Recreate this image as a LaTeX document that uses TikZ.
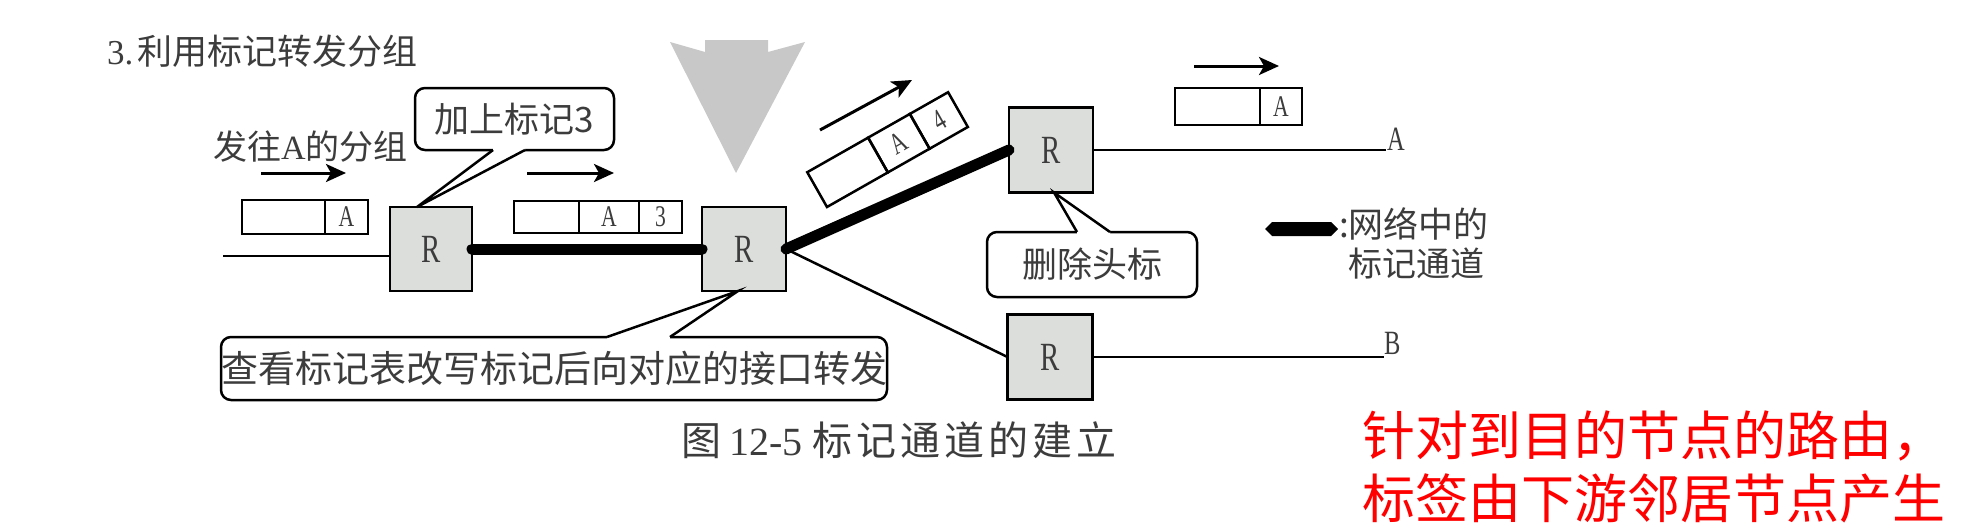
\documentclass[tikz,border=0pt]{standalone}
\usepackage{fontspec}
\setmainfont{Liberation Serif}
\newfontfamily\cjk{Noto Sans CJK SC}
\newfontfamily\nserif[FakeStretch=0.72]{Liberation Serif}
\usetikzlibrary{arrows.meta}
\definecolor{rfill}{RGB}{220,222,220}
\definecolor{trigray}{RGB}{200,200,200}
\definecolor{txt}{RGB}{60,60,60}
\newcommand\gp{\hspace{4pt}}
\begin{document}
\begin{tikzpicture}[x=1pt,y=-1pt,
  router/.style={draw, line width=2.5pt, fill=rfill, minimum width=82pt, minimum height=84pt, inner sep=0pt, outer sep=0pt, text=txt, font=\nserif\fontsize{40}{40}\selectfont},
  cell/.style={draw, line width=2.5pt, minimum height=34pt, inner sep=0pt, outer sep=0pt, text=txt, font=\nserif\fontsize{30}{30}\selectfont},
  callout/.style={draw, line width=2.5pt, rounded corners=10pt, fill=white, inner sep=0pt, outer sep=0pt, text=txt, font=\cjk\fontsize{35}{35}\selectfont},
  lbl/.style={inner sep=0pt, text=txt, font=\cjk\fontsize{34}{34}\selectfont},
  endlbl/.style={anchor=base west, inner sep=0pt, text=txt, font=\nserif\fontsize{34}{34}\selectfont},
  link/.style={line width=2.5pt},
  tunnel/.style={line width=11pt, line cap=round},
  flow/.style={line width=3pt, -{Stealth[length=20pt,width=18pt,inset=5pt]}},
  ptr/.style={line width=2.5pt, line join=miter},
  redtxt/.style={anchor=west, inner sep=0pt, text=red, font=\cjk\fontsize{53}{53}\selectfont}
]
\useasboundingbox (0,0) rectangle (1968,530);

% gray marker triangle
\fill[trigray] (670,42) -- (705,52) -- (705,40) -- (768,40) -- (768,52) -- (805,42) -- (736,173) -- cycle;

% title and labels
\node[lbl, anchor=west, font=\cjk\fontsize{35}{35}\selectfont] (title) at (107,51) {{\rmfamily 3.}\hspace{4pt}利用标记转发分组};
\node[lbl, anchor=west] (send) at (213,147) {发往{\rmfamily A}的分组};

% routers
\node[router] (R1) at (431,249) {R};
\node[router, minimum width=84pt] (R2) at (744,249) {R};
\node[router, minimum width=84pt, minimum height=85pt] (R3) at (1051,150) {R};
\node[router, minimum width=85pt, minimum height=85pt] (R4) at (1050,357) {R};

% links
\coordinate (in) at (223,256);
\draw[link] (in) -- (in -| R1.west);
\coordinate (dA) at (1386,150);
\draw[link] (R3.east) -- (dA);
\node[endlbl] (labA) at ([xshift=1pt]dA) {A};
\coordinate (dB) at (1384,357);
\draw[link] (R4.east) -- (dB);
\node[endlbl] (labB) at ([yshift=3pt]dB) {B};
\draw[link] (R2.east) -- (R4.west);
\draw[tunnel] (R1.east) -- (R2.west);
\draw[tunnel] (R2.east) -- (R3.west);

% packets
\node[cell, minimum width=83pt, anchor=north west] (p1a) at (242,200) {};
\node[cell, minimum width=43pt, anchor=west] (p1b) at (p1a.east) {A};

\node[cell, minimum width=65pt, minimum height=32pt, anchor=north west] (p2a) at (514,201) {};
\node[cell, minimum width=60pt, minimum height=32pt, anchor=west] (p2b) at (p2a.east) {A};
\node[cell, minimum width=43pt, minimum height=32pt, anchor=west] (p2c) at (p2b.east) {3};

\node[cell, minimum width=85pt, minimum height=37pt, anchor=north west] (p3a) at (1175,88) {};
\node[cell, minimum width=42pt, minimum height=37pt, anchor=west] (p3b) at (p3a.east) {A};

\node[cell, rotate=29.6, minimum width=70pt, minimum height=40pt, anchor=south west] (p4a) at (827,207) {};
\node[cell, rotate=29.6, minimum width=48pt, minimum height=40pt, anchor=south west] (p4b) at (p4a.south east) {A};
\node[cell, rotate=29.6, minimum width=44pt, minimum height=40pt, anchor=south west] (p4c) at (p4b.south east) {4};

% flow arrows
\coordinate (a1s) at (261,173); \coordinate (a1e) at (346,173);
\draw[flow] (a1s) -- (a1e);
\coordinate (a2s) at (527,173); \coordinate (a2e) at (614,173);
\draw[flow] (a2s) -- (a2e);
\coordinate (a3s) at (1194,66); \coordinate (a3e) at (1279,66);
\draw[flow] (a3s) -- (a3e);
\coordinate (a4s) at (820,130); \coordinate (a4e) at (912,80);
\draw[flow] (a4s) -- (a4e);

% callout 1
\node[callout, minimum width=199pt, minimum height=62pt] (C1) at (514.5,119) {加上标记3};
\coordinate (c1a) at ([xshift=78pt]C1.south west);
\coordinate (c1b) at ([xshift=110pt]C1.south west);
\coordinate (c1t) at ([xshift=27pt]R1.north west);
\fill[white] (c1a) -- (c1t) -- (c1b) -- ([yshift=4pt]c1b) -- ([yshift=4pt]c1a) -- cycle;
\draw[ptr] (c1a) -- (c1t) -- (c1b);

% callout 2
\node[callout, minimum width=210pt, minimum height=65pt] (C2) at (1092,264.5) {删除头标};
\coordinate (c2a) at ([xshift=90pt]C2.north west);
\coordinate (c2b) at ([xshift=123pt]C2.north west);
\coordinate (c2t) at ([xshift=3pt]R3.south);
\fill[white] (c2a) -- (c2t) -- (c2b) -- ([yshift=-4pt]c2b) -- ([yshift=-4pt]c2a) -- cycle;
\draw[ptr] (c2a) -- (c2t) -- (c2b);

% callout 3
\node[callout, minimum width=648pt, minimum height=63pt, font=\cjk\fontsize{37}{37}\selectfont] (C3) at (554,368.5) {查看标记表改写标记后向对应的接口转发};
\coordinate (c3a) at ([xshift=386pt]C3.north west);
\coordinate (c3b) at ([xshift=449pt]C3.north west);
\coordinate (c3t) at ([xshift=-6pt]R2.south);
\fill[white] (c3a) -- (c3t) -- (c3b) -- ([yshift=-4pt]c3b) -- ([yshift=-4pt]c3a) -- cycle;
\draw[ptr] (c3a) -- (c3t) -- (c3b);

% legend
\fill (1265,229) -- (1272,222) -- (1331,222) -- (1338,229) -- (1331,236) -- (1272,236) -- cycle;
\node[lbl, anchor=west, font=\cjk\fontsize{35}{35}\selectfont] (leg1) at (1339,224) {:网络中的};
\node[lbl, anchor=west] (leg2) at (1348,263) {标记通道};

% caption
\node[lbl, anchor=west, font=\cjk\fontsize{40}{40}\selectfont] (cap) at (681,440) {图\hspace{8pt}{\rmfamily 12-5}\hspace{10pt}标\gp 记\gp 通\gp 道\gp 的\gp 建\gp 立};

% red note
\node[redtxt] (n1) at (1362,436) {针对到目的节点的路由，};
\node[redtxt] (n2) at (1362,498) {标签由下游邻居节点产生};
\end{tikzpicture}
\end{document}
